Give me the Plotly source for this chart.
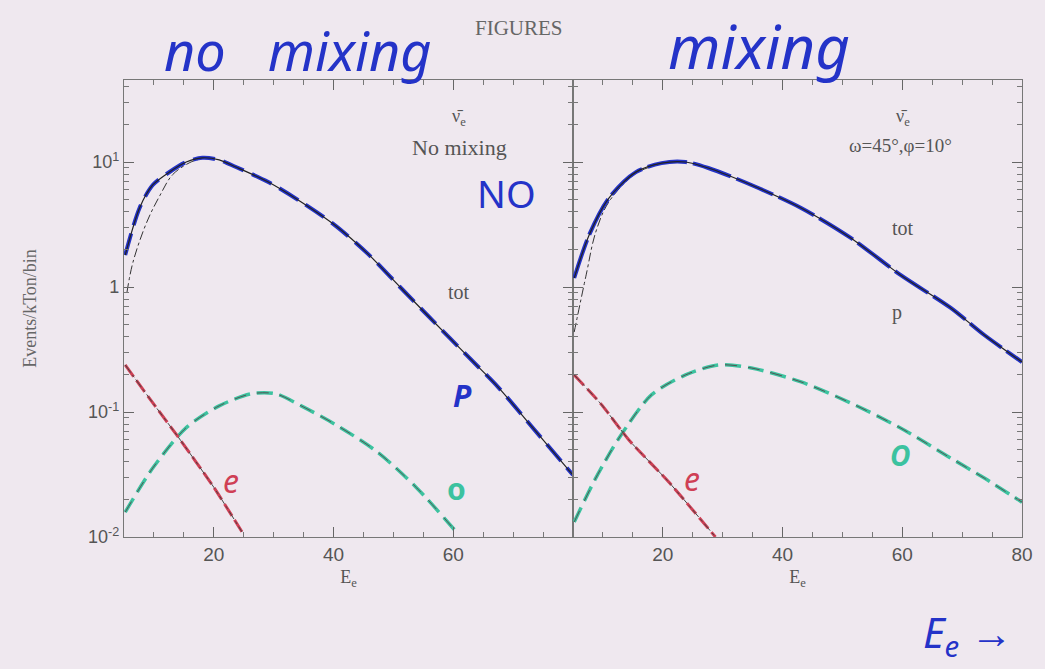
import plotly.graph_objects as go

# ---------------- data ----------------
# Left panel: no mixing
E_tot_L = [5.2, 7.6, 9.8, 12.6, 15.4, 18.1, 20.9, 23.7, 29.1, 34.6, 40.2, 45.7, 51.1, 56.7, 62.2, 67.6, 73.3, 80.0]
tot_L   = [1.80, 4.29, 6.55, 8.32, 10.0, 10.8, 10.4, 9.12, 6.92, 4.79, 3.13, 1.85, 1.0, 0.53, 0.286, 0.156, 0.0745, 0.0313]
E_p_L   = [5.5, 6.5, 8.8, 11.0, 13.1, 16.0, 18.1]
p_L     = [0.91, 1.58, 3.3, 5.4, 7.9, 9.9, 10.7]
E_e_L   = [5.2, 10.0, 13.8, 20.0, 24.7]
e_L     = [0.238, 0.115, 0.0655, 0.025, 0.011]
E_o_L   = [5.2, 9.8, 15.4, 20.9, 26.3, 30.3, 34.6, 40.2, 47.3, 53.9, 60.5]
o_L     = [0.0158, 0.0356, 0.075, 0.112, 0.14, 0.14, 0.112, 0.08, 0.048, 0.0247, 0.011]

# Right panel: mixing (omega=45, phi=10)
E_tot_R = [5.2, 7.7, 11.0, 15.5, 19.8, 23.8, 27.6, 34.8, 43.1, 51.4, 59.7, 68.1, 73.7, 80.0]
tot_R   = [1.18, 2.61, 5.15, 8.3, 9.8, 10.0, 8.95, 6.55, 4.29, 2.47, 1.25, 0.68, 0.413, 0.251]
E_p_R   = [5.2, 7.2, 8.8, 11.0, 15.5, 19.8]
p_R     = [0.436, 1.25, 2.75, 4.8, 8.1, 9.7]
E_e_R   = [5.2, 9.8, 14.3, 21.0, 28.8]
e_R     = [0.198, 0.114, 0.06, 0.0275, 0.010]
E_o_R   = [5.2, 8.8, 12.7, 18.1, 23.8, 29.3, 34.8, 43.1, 51.4, 59.7, 68.1, 73.7, 80.0]
o_R     = [0.0132, 0.0296, 0.062, 0.137, 0.198, 0.238, 0.225, 0.174, 0.118, 0.0745, 0.0428, 0.0296, 0.019]

x_ticks_L = [20, 40, 60]
x_ticks_R = [20, 40, 60, 80]
y_tickvals = [0.01, 0.1, 1, 10]
y_ticktext = ["10<sup>-2</sup>", "10<sup>-1</sup>", "1", "10<sup>1</sup>"]

# ---------------- styles ----------------
BG = "#efe8ef"
BLUE = "#2433c8"
GREEN = "#3cc29f"
RED = "#cf3f55"
HAND = "Noto Sans"
SERIF = "Liberation Serif"
SANS = "Liberation Sans"

fig = go.Figure()

def add_panel(xa, ya, E_tot, tot, E_p, p, E_e, e, E_o, o, bdash):
    kw = dict(xaxis=xa, yaxis=ya, mode="lines", showlegend=False, hoverinfo="skip")
    fig.add_trace(go.Scatter(x=E_o, y=o, line=dict(color=GREEN, width=3.5, dash="16px,7px", shape="spline", smoothing=0.8), **kw))
    fig.add_trace(go.Scatter(x=E_o, y=o, line=dict(color="#555", width=1, dash="12px,11px", shape="spline", smoothing=0.8), **kw))
    fig.add_trace(go.Scatter(x=E_e, y=e, line=dict(color=RED, width=3, dash="14px,5px", shape="spline", smoothing=0.6), **kw))
    fig.add_trace(go.Scatter(x=E_e, y=e, line=dict(color="#444", width=1, dash="dashdot", shape="spline", smoothing=0.6), **kw))
    fig.add_trace(go.Scatter(x=E_p, y=p, line=dict(color="#333", width=1, dash="dashdot", shape="spline"), **kw))
    fig.add_trace(go.Scatter(x=E_tot, y=tot, line=dict(color=BLUE, width=4, dash=bdash, shape="spline", smoothing=0.8), **kw))
    fig.add_trace(go.Scatter(x=E_tot, y=tot, line=dict(color="#222", width=1.2, shape="spline", smoothing=0.8), **kw))

add_panel("x", "y", E_tot_L, tot_L, E_p_L, p_L, E_e_L, e_L, E_o_L, o_L, "22px,9px")
add_panel("x2", "y2", E_tot_R, tot_R, E_p_R, p_R, E_e_R, e_R, E_o_R, o_R, "40px,6px")

split = 453 / 906

xcommon = dict(range=[5, 80], showgrid=False, zeroline=False, showline=True, linecolor="#777",
               linewidth=1.2, mirror="allticks", ticks="inside", ticklen=10, tickcolor="#666",
               minor=dict(ticks="inside", ticklen=5, dtick=5, tick0=0, tickcolor="#777"),
               tickfont=dict(family=SANS, size=19, color="#555"),
               title=dict(text="E<sub>e</sub>", font=dict(family=SERIF, size=18, color="#555"), standoff=6))
ycommon = dict(type="log", range=[-2, 1.656], showgrid=False, zeroline=False, showline=True,
               linecolor="#777", linewidth=1.2, mirror="allticks", ticks="inside", ticklen=10,
               tickcolor="#666", tickvals=y_tickvals,
               minor=dict(ticks="inside", ticklen=5, tickcolor="#777", dtick="D1"))

fig.update_layout(
    width=1045, height=669,
    margin=dict(l=124, r=15, t=80, b=132),
    paper_bgcolor=BG, plot_bgcolor=BG,
    xaxis=dict(domain=[0, split], tickvals=x_ticks_L, anchor="y", **xcommon),
    xaxis2=dict(domain=[split, 1], tickvals=x_ticks_R, anchor="y2", **xcommon),
    yaxis=dict(domain=[0, 1], anchor="x", ticktext=y_ticktext,
               tickfont=dict(family=SANS, size=18, color="#555"),
               title=dict(text="Events/kTon/bin", font=dict(family=SERIF, size=18, color="#666"), standoff=46),
               **ycommon),
    yaxis2=dict(domain=[0, 1], anchor="x2", showticklabels=False, **ycommon),
)

def dtxt(xa, ya, x, logy, s, size, color, family):
    # data-referenced text; log axes take log10 positions
    fig.add_annotation(x=x, y=logy, xref=xa, yref=ya, text=s, showarrow=False,
                       xanchor="center", yanchor="middle",
                       font=dict(size=size, color=color, family=family))

def ptxt(px, py, s, size, color, family):
    fig.add_annotation(x=(px - 124) / 906, y=(537 - py) / 457, xref="paper", yref="paper",
                       text=s, showarrow=False, xanchor="center", yanchor="middle",
                       font=dict(size=size, color=color, family=family))

# printed labels in panels
dtxt("x", "y", 61.0, 1.36, "ν̄<sub>e</sub>", 18, "#555", SERIF)
dtxt("x", "y", 61.0, 1.12, "No mixing", 22, "#555", SERIF)
dtxt("x", "y", 61.0, -0.04, "tot", 20, "#555", SERIF)
dtxt("x2", "y2", 60.1, 1.36, "ν̄<sub>e</sub>", 18, "#555", SERIF)
dtxt("x2", "y2", 59.7, 1.136, "ω=45°,φ=10°", 19, "#555", SERIF)
dtxt("x2", "y2", 60.1, 0.472, "tot", 20, "#555", SERIF)
dtxt("x2", "y2", 59.2, -0.2, "p", 20, "#555", SERIF)

# handwritten annotations
dtxt("x", "y", 68.9, 0.752, "NO", 38, BLUE, HAND)
dtxt("x", "y", 61.5, -0.864, "<i><b>P</b></i>", 30, BLUE, HAND)
dtxt("x", "y", 60.6, -1.608, "<b>o</b>", 30, GREEN, HAND)
dtxt("x", "y", 22.9, -1.544, "<i>e</i>", 32, RED, HAND)
dtxt("x2", "y2", 59.7, -1.344, "<i><b>O</b></i>", 28, GREEN, HAND)
dtxt("x2", "y2", 24.8, -1.528, "<i>e</i>", 32, RED, HAND)

# page-level text
ptxt(523, 28, "FIGURES", 21, "#666", SERIF)
ptxt(300, 50, "<i>no   mixing</i>", 54, BLUE, HAND)
ptxt(765, 46, "<i>mixing</i>", 60, BLUE, HAND)
ptxt(975, 634, "<i>E<sub>e</sub> →</i>", 42, BLUE, HAND)

fig.write_html("out.html")
